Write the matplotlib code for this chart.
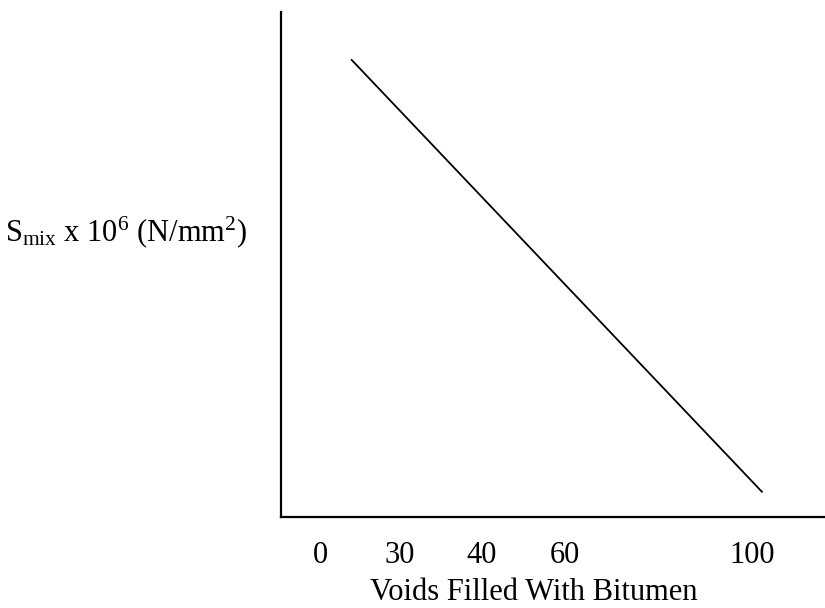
import matplotlib.pyplot as plt

plt.rcParams['font.family'] = ['Liberation Serif', 'DejaVu Serif']
plt.rcParams['mathtext.fontset'] = 'custom'
plt.rcParams['mathtext.rm'] = 'Liberation Serif'
plt.rcParams['mathtext.it'] = 'Liberation Serif:italic'

# qualitative trend: stiffness falls as more voids are filled
tick_labels = ['0', '30', '40', '60', '100']
tick_pos = [0.072, 0.219, 0.369, 0.522, 0.866]
line_x = [0.13, 0.884]
line_y = [0.905, 0.05]

fig = plt.figure(figsize=(8.25, 6.08), dpi=100)
ax = fig.add_axes([281 / 825, 91 / 608, 1 - 281 / 825, 505 / 608])
ax.plot(line_x, line_y, color='black', lw=1.3)
ax.set_xlim(0, 1)
ax.set_ylim(0, 1)

for side in ['top', 'right']:
    ax.spines[side].set_visible(False)
for side in ['left', 'bottom']:
    ax.spines[side].set_linewidth(1.6)

ax.set_xticks(tick_pos)
ax.set_xticklabels(tick_labels, fontsize=22)
ax.tick_params(axis='x', length=0, pad=17)
ax.set_yticks([])

fig.text(534 / 825, 1 - 592 / 608, 'Voids Filled With Bitumen',
         fontsize=22, ha='center', va='center')
fig.text(0.006, 1 - 232 / 608, r'S$_{\rm mix}$ x 10$^{6}$ (N/mm$^{2}$)',
         fontsize=22, va='center', ha='left')

fig.savefig('out.png', dpi=100)
